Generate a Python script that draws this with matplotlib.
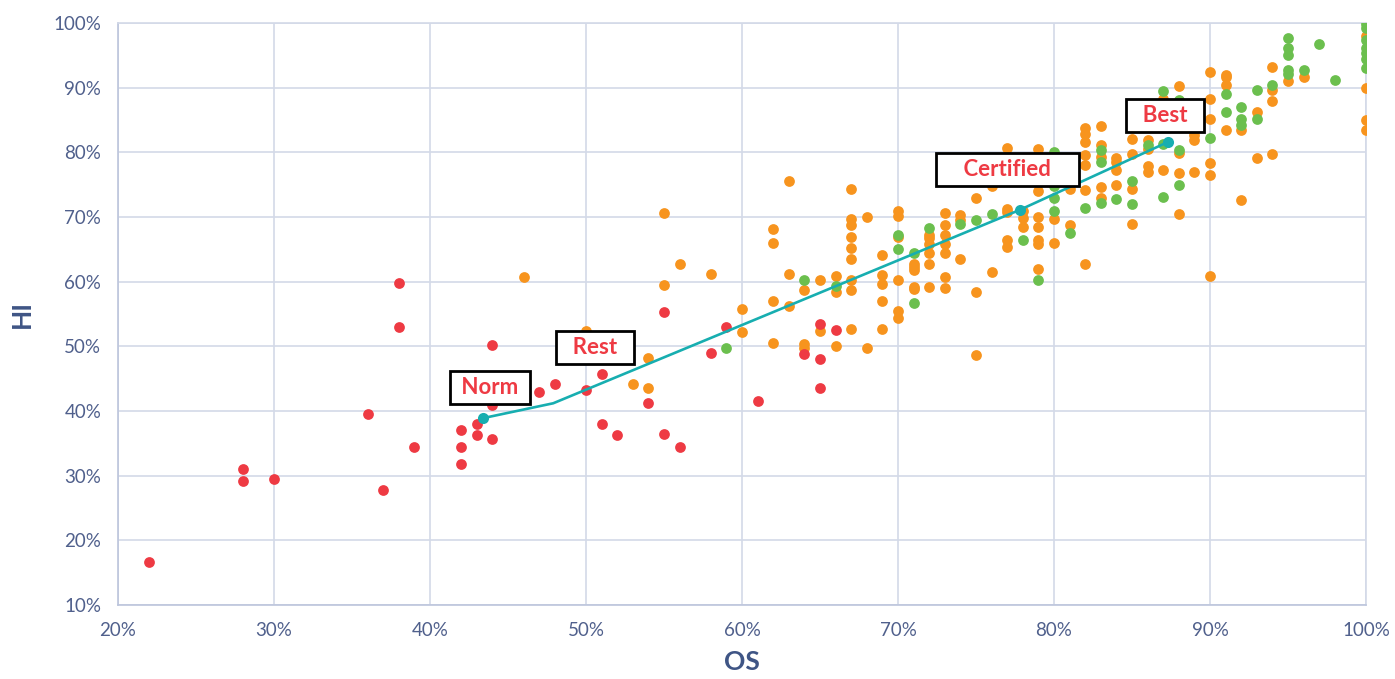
import numpy as np
import matplotlib
matplotlib.use("Agg")
import matplotlib.pyplot as plt
from matplotlib.ticker import FuncFormatter

# OS / HI values in percent, grouped by dot colour
red_os = [22, 28, 28, 30, 36, 37, 38, 38, 39, 42, 42, 42, 43, 43, 44, 44, 44,
          47, 48, 50, 51, 51, 52, 54, 55, 55, 56, 58, 59, 61, 64, 65, 65, 65, 66]
red_hi = [16.7, 31.0, 29.2, 29.5, 39.5, 27.8, 59.8, 53.0, 34.5, 37.0, 34.5, 31.8,
          38.0, 36.3, 50.2, 41.0, 35.7, 43.0, 44.2, 43.2, 45.7, 38.0, 36.3, 41.2,
          55.3, 36.4, 34.5, 49.0, 53.0, 41.5, 48.8, 53.5, 48.0, 43.5, 52.5]

orange_os = [46, 50, 53, 54, 54, 55, 55, 56, 58, 60, 60,
             62, 62, 62, 62, 63, 63, 63, 64, 64, 64, 65, 65, 66, 66, 66,
             67, 67, 67, 67, 67, 67, 67, 67, 67, 68, 68,
             69, 69, 69, 69, 69, 70, 70, 70, 70, 70, 70,
             71, 71, 71, 71, 71, 72, 72, 72, 72, 72, 72,
             73, 73, 73, 73, 73, 73, 73, 74, 74, 74, 75, 75, 75, 76, 76,
             77, 77, 77, 77, 77, 78, 78, 78,
             79, 79, 79, 79, 79, 79, 79, 79, 80, 80, 81, 81,
             82, 82, 82, 82, 82, 82, 82, 83, 83, 83, 83, 83,
             84, 84, 84, 84, 85, 85, 85, 85, 86, 86, 86, 86, 87, 87,
             88, 88, 88, 88, 89, 89, 89, 90, 90, 90, 90, 90, 90,
             91, 91, 91, 91, 92, 92, 93, 93, 94, 94, 94, 94, 95, 96,
             100, 100, 100, 100]
orange_hi = [60.7, 52.4, 44.2, 48.2, 43.5, 70.7, 59.5, 62.7, 61.2, 55.8, 52.2,
             68.2, 66.0, 57.0, 50.5, 75.5, 61.2, 56.2, 58.7, 50.4, 49.7, 60.3, 52.4, 60.9, 58.4, 50.0,
             74.4, 69.7, 68.7, 66.9, 65.2, 63.5, 60.3, 58.7, 52.7, 70.0, 49.7,
             64.2, 61.0, 59.6, 57.0, 52.7, 71.0, 70.2, 66.9, 60.3, 55.5, 54.4,
             62.8, 62.3, 61.8, 59.2, 58.8, 67.2, 66.7, 65.8, 64.4, 62.7, 59.2,
             70.7, 68.7, 67.2, 65.8, 64.5, 60.8, 59.0, 70.3, 69.6, 63.5, 73.0, 58.4, 48.7, 74.8, 61.5,
             80.7, 71.3, 70.8, 66.4, 65.4, 71.0, 69.8, 68.5,
             80.5, 75.2, 74.1, 70.0, 68.4, 66.4, 65.8, 61.9, 69.7, 66.0, 74.4, 68.8,
             83.7, 82.9, 81.6, 79.6, 78.0, 74.2, 62.7, 84.1, 81.2, 79.3, 74.7, 72.9,
             79.1, 78.5, 77.3, 74.9, 82.0, 79.8, 74.3, 69.0, 81.9, 80.6, 77.9, 76.9, 88.3, 77.3,
             90.2, 79.9, 76.8, 70.5, 82.7, 81.9, 77.0, 92.5, 88.2, 85.2, 78.4, 76.5, 60.9,
             92.0, 91.6, 90.5, 83.5, 83.5, 72.7, 86.3, 79.1, 93.2, 89.7, 88.0, 79.7, 91.0, 91.7,
             98.0, 89.9, 85.0, 83.5]

green_os = [59, 64, 66, 70, 70, 71, 71, 72, 74, 75, 76, 78, 79,
            80, 80, 80, 80, 81, 82, 83, 83, 83, 84, 85, 85, 86, 87, 87, 87,
            88, 88, 88, 90, 91, 91, 92, 92, 92, 93, 93, 94,
            95, 95, 95, 95, 95, 96, 97, 98,
            100, 100, 100, 100, 100, 100, 100]
green_hi = [49.7, 60.3, 59.4, 67.3, 65.0, 64.5, 56.7, 68.3, 69.0, 69.5, 70.5, 66.4, 60.2,
            80.0, 74.8, 72.9, 71.0, 67.5, 71.4, 80.3, 78.5, 72.2, 72.8, 75.6, 72.0, 81.2, 89.5, 81.3, 73.1,
            88.1, 80.3, 74.9, 82.2, 89.0, 86.3, 87.0, 85.2, 84.3, 89.7, 85.2, 90.4,
            97.7, 96.2, 95.1, 92.8, 92.1, 92.7, 96.7, 91.2,
            99.9, 99.2, 97.4, 96.1, 95.3, 94.5, 93.0]

# milestone path
path_os = [43.4, 47.9, 77.8, 87.3]
path_hi = [38.9, 41.2, 71.1, 81.6]
path_labels = ["Norm", "Rest", "Certified", "Best"]
path_marked = [True, False, True, True]
label_offsets = [(5, 22), (30, 40), (-9, 29), (-2, 19)]
label_pads = [1, 2, 4, 2]

RED = "#EE3A43"
ORANGE = "#F7941E"
GREEN = "#6BBF4E"
TEAL = "#17AEB0"
GRID = "#D3D9E8"
TICK = "#50608C"
LABEL = "#3F5585"

fig = plt.figure(figsize=(13.95, 6.79), dpi=100)
ax = fig.add_axes([0.0846, 0.109, 0.8946, 0.857])

ax.scatter(orange_os, orange_hi, s=60, color=ORANGE, zorder=3, linewidths=0)
ax.scatter(green_os, green_hi, s=60, color=GREEN, zorder=3, linewidths=0)
ax.scatter(red_os, red_hi, s=60, color=RED, zorder=3, linewidths=0)

ax.plot(path_os, path_hi, color=TEAL, lw=1.9, zorder=4)
mk_x = [x for x, m in zip(path_os, path_marked) if m]
mk_y = [y for y, m in zip(path_hi, path_marked) if m]
ax.scatter(mk_x, mk_y, s=64, color=TEAL, zorder=5, linewidths=0)

for x, y, lab, off, p in zip(path_os, path_hi, path_labels, label_offsets, label_pads):
    txt = " " * p + lab + " " * p
    ax.annotate(txt, (x, y), xytext=off, textcoords="offset points",
                ha="center", va="center", fontsize=16, color=RED,
                fontweight="bold", family="Lato", zorder=6,
                bbox=dict(boxstyle="square,pad=0.28", fc="white",
                          ec="black", lw=2))

ax.set_xlim(20, 100)
ax.set_ylim(10, 100)
ax.set_xticks(np.arange(20, 101, 10))
ax.set_yticks(np.arange(10, 101, 10))
pct = FuncFormatter(lambda v, _: f"{v:.0f}%")
ax.xaxis.set_major_formatter(pct)
ax.yaxis.set_major_formatter(pct)
ax.grid(True, color=GRID, lw=1.2, zorder=0)
ax.set_axisbelow(True)
for sp in ax.spines.values():
    sp.set_color(GRID)
    sp.set_linewidth(1.2)
ax.spines["left"].set_color("#BCC5DC")
ax.spines["bottom"].set_color("#BCC5DC")
ax.tick_params(length=0, labelsize=13.5, labelcolor=TICK, pad=12)
for t in ax.get_xticklabels() + ax.get_yticklabels():
    t.set_family("Lato")

ax.set_xlabel("OS", fontsize=19, fontweight="bold", color=LABEL,
              family="Lato", labelpad=8)
ax.set_ylabel("HI", fontsize=19, fontweight="bold", color=LABEL,
              family="Lato", labelpad=14)

fig.savefig("out.png", dpi=100)
